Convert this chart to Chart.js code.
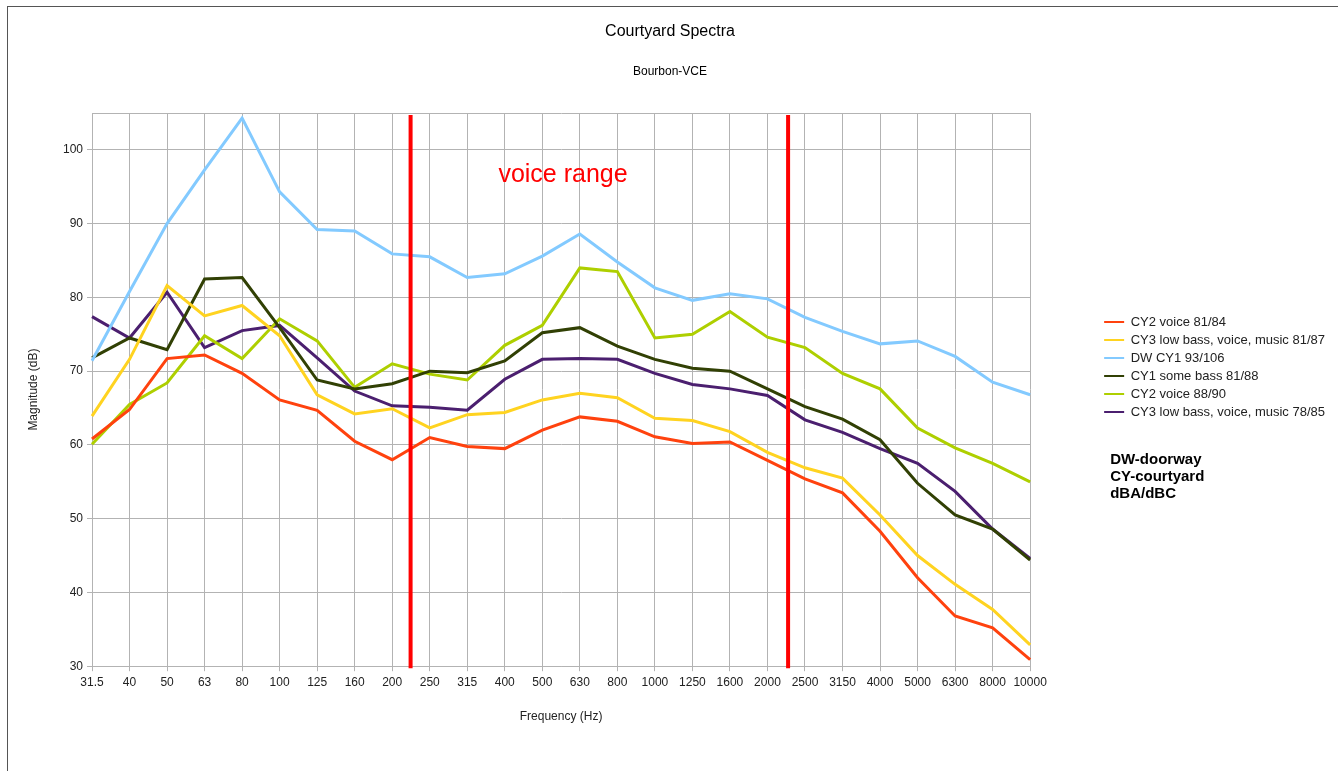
<!DOCTYPE html>
<html>
<head>
<meta charset="utf-8">
<script src="https://cdn.jsdelivr.net/npm/chart.js@4.4.1/dist/chart.umd.min.js"></script>
<style>
  html, body { margin: 0; padding: 0; background: #fff; }
  #wrap { position: relative; width: 1338px; height: 771px; }
  #frame { position: absolute; left: 7px; top: 6px; right: 0; bottom: 0;
           border-top: 1px solid #555; border-left: 1px solid #555; pointer-events: none; }
</style>
</head>
<body>
<div id="wrap">
  <canvas id="myChart" width="1338" height="771"></canvas>
  <div id="frame"></div>
</div>
<script>
/*---------------------------- data ------------------------------------*/
var bands = ['31.5','40','50','63','80','100','125','160','200','250','315','400','500',
             '630','800','1000','1250','1600','2000','2500','3150','4000','5000','6300','8000','10000'];

var cy2Voice8184 = [60.8,64.8,71.7,72.2,69.7,66.1,64.7,60.5,58.0,61.0,59.8,59.5,62.0,
                    63.8,63.2,61.1,60.2,60.4,57.9,55.4,53.5,48.3,42.0,36.8,35.2,30.9];
var cy3Music8187 = [63.9,71.6,81.6,77.5,78.9,74.8,66.8,64.2,64.9,62.3,64.1,64.4,66.1,
                    67.0,66.4,63.6,63.3,61.8,59.0,56.9,55.5,50.5,45.0,41.1,37.7,32.9];
var dwCy193106   = [71.4,80.8,90.0,97.3,104.3,94.3,89.2,89.0,85.9,85.5,82.7,83.2,85.6,
                    88.6,84.8,81.3,79.6,80.5,79.8,77.3,75.4,73.7,74.1,72.0,68.5,66.8];
var cy1Bass8188  = [71.8,74.5,72.9,82.5,82.7,75.9,68.8,67.6,68.3,70.0,69.8,71.4,75.2,
                    75.9,73.4,71.6,70.4,70.0,67.6,65.2,63.5,60.7,54.8,50.5,48.6,44.4];
var cy2Voice8890 = [60.1,65.5,68.4,74.8,71.7,77.1,74.1,67.8,71.0,69.6,68.8,73.5,76.2,
                    84.0,83.5,74.5,75.0,78.1,74.6,73.2,69.7,67.6,62.3,59.6,57.5,55.0];
var cy3Music7885 = [77.4,74.5,80.7,73.2,75.5,76.2,71.8,67.3,65.3,65.1,64.7,68.9,71.6,
                    71.7,71.6,69.7,68.2,67.6,66.7,63.4,61.7,59.5,57.5,53.7,48.6,44.6];

// voice range markers, in band-index units
var voiceRange = [8.49, 18.55];
var voiceLabel = {text: 'voice range', x: 10.83, y: 96.6};
var notes = ['DW-doorway', 'CY-courtyard', 'dBA/dBC'];

/*---------------------------- plugins ------------------------------------*/
var voicePlugin = {
  id: 'voiceRange',
  afterDatasetsDraw: function(chart) {
    var ctx = chart.ctx, xs = chart.scales.x, ys = chart.scales.y, a = chart.chartArea;
    ctx.save();
    ctx.strokeStyle = '#ff0000';
    ctx.lineWidth = 4;
    voiceRange.forEach(function(v) {
      var px = xs.getPixelForValue(v);
      ctx.beginPath();
      ctx.moveTo(px, a.top + 2);
      ctx.lineTo(px, a.bottom + 2);
      ctx.stroke();
    });
    ctx.fillStyle = '#ff0000';
    ctx.font = '25px "Liberation Sans", Arial, sans-serif';
    ctx.textBaseline = 'middle';
    ctx.textAlign = 'left';
    ctx.fillText(voiceLabel.text, xs.getPixelForValue(voiceLabel.x), ys.getPixelForValue(voiceLabel.y));
    ctx.restore();
  }
};

var notesPlugin = {
  id: 'notes',
  afterDraw: function(chart) {
    var lg = chart.legend, boxes = lg.legendHitBoxes;
    var ctx = chart.ctx;
    var y0 = boxes[boxes.length - 1].top + 54;
    ctx.save();
    ctx.fillStyle = '#000';
    ctx.font = 'bold 15px "Liberation Sans", Arial, sans-serif';
    ctx.textBaseline = 'middle';
    notes.forEach(function(t, i) {
      ctx.fillText(t, lg.left + 11, y0 + i * 17);
    });
    ctx.restore();
  }
};

/*---------------------------- chart ------------------------------------*/
Chart.defaults.font.family = '"Liberation Sans", Arial, sans-serif';
Chart.defaults.color = '#333';

function series(label, data, color) {
  return {label: label, data: data, borderColor: color, backgroundColor: color,
          borderWidth: 3, pointRadius: 0, tension: 0, fill: false};
}

new Chart('myChart', {
  type: 'line',
  data: {
    labels: bands,
    datasets: [
      series('CY2 voice 81/84', cy2Voice8184, '#ff420e'),
      series('CY3 low bass, voice, music 81/87', cy3Music8187, '#ffd320'),
      series('DW CY1 93/106', dwCy193106, '#83caff'),
      series('CY1 some bass 81/88', cy1Bass8188, '#314004'),
      series('CY2 voice 88/90', cy2Voice8890, '#aecf00'),
      series('CY3 low bass, voice, music 78/85', cy3Music7885, '#4b1f6f')
    ]
  },
  options: {
    responsive: false,
    animation: false,
    layout: {padding: {left: 5, right: 3, top: 0, bottom: 47}},
    scales: {
      x: {
        offset: false,
        grid: {color: '#b3b3b3', tickLength: 5, offset: false},
        border: {color: '#b3b3b3'},
        ticks: {color: '#222', font: {size: 12}, padding: 4, maxRotation: 0, autoSkip: false},
        title: {display: true, text: 'Frequency (Hz)', color: '#222', font: {size: 12},
                padding: {top: 16, bottom: 0}}
      },
      y: {
        min: 30,
        max: 105,
        grid: {color: '#b3b3b3', tickLength: 5,
               tickColor: function(c) { return c.tick && c.tick.value % 10 ? 'rgba(0,0,0,0)' : '#b3b3b3'; }},
        border: {color: '#b3b3b3'},
        ticks: {stepSize: 10, color: '#222', font: {size: 12}, padding: 4,
                callback: function(v) { return v % 10 === 0 ? v : ''; }},
        title: {display: true, text: 'Magnitude (dB)', color: '#222', font: {size: 12},
                padding: {top: 21, bottom: 0}},
        afterFit: function(s) { s.width = 87; }
      },
      gap: {
        type: 'linear',
        position: 'right',
        grid: {display: false},
        border: {display: false},
        ticks: {display: false},
        afterFit: function(s) { s.width = 69; }
      }
    },
    plugins: {
      title: {display: true, text: 'Courtyard Spectra', color: '#000',
              font: {size: 16, weight: 'normal'}, padding: {top: 22, bottom: 0}},
      subtitle: {display: true, text: 'Bourbon-VCE', color: '#000',
                 font: {size: 12}, padding: {top: 23.6, bottom: 33.8}},
      legend: {
        position: 'right',
        align: 'start',
        fullSize: false,
        maxWidth: 260,
        title: {display: true, text: ' ', font: {size: 12}, padding: {top: 183.1, bottom: 0}},
        labels: {usePointStyle: true, pointStyle: 'line', pointStyleWidth: 20, boxHeight: 13,
                 padding: 5, color: '#222', font: {size: 13},
                 generateLabels: function(chart) {
                   var items = Chart.defaults.plugins.legend.labels.generateLabels(chart);
                   items.forEach(function(it) { it.lineWidth = 2; });
                   return items;
                 }}
      },
      tooltip: {enabled: false}
    }
  },
  plugins: [voicePlugin, notesPlugin]
});
</script>
</body>
</html>
